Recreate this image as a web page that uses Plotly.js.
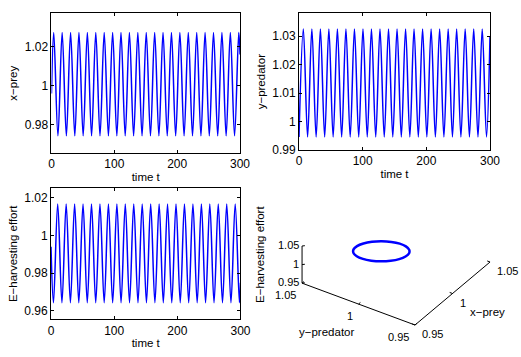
<!DOCTYPE html>
<html>
<head>
<meta charset="utf-8">
<script src="https://cdn.plot.ly/plotly-3.0.1.min.js"></script>
<style>
  html, body { margin: 0; padding: 0; background: #ffffff; }
  #chart { width: 521px; height: 357px; }
</style>
</head>
<body>
<div id="chart"></div>
<script>
// extrema of each time series
let preyPeakT = [3.6, 17.0, 30.4, 43.7, 57.1, 70.5, 83.9, 97.3, 110.6, 124.0, 137.4, 150.8, 164.2, 177.5, 190.9, 204.3, 217.7, 231.1, 244.4, 257.8, 271.2, 284.6, 298.0];
let preyTroughT = [10.3, 23.7, 37.1, 50.4, 63.8, 77.2, 90.6, 104.0, 117.3, 130.7, 144.1, 157.5, 170.9, 184.2, 197.6, 211.0, 224.4, 237.8, 251.1, 264.5, 277.9, 291.3];
let preyLevels = [1.0273, 0.9744];   // peak, trough
let preyEnds = [0.996, 1.016];       // value at t=0, t=300

let predPeakT = [6.8, 20.2, 33.6, 46.9, 60.3, 73.7, 87.1, 100.5, 113.8, 127.2, 140.6, 154.0, 167.4, 180.7, 194.1, 207.5, 220.9, 234.3, 247.6, 261.0, 274.4, 287.8];
let predTroughT = [13.5, 26.9, 40.3, 53.6, 67.0, 80.4, 93.8, 107.2, 120.5, 133.9, 147.3, 160.7, 174.1, 187.4, 200.8, 214.2, 227.6, 241.0, 254.3, 267.7, 281.1, 294.5];
let predLevels = [1.0325, 0.9946];
let predEnds = [0.9946, 1.030];

let effPeakT = [10.6, 24.0, 37.4, 50.7, 64.1, 77.5, 90.9, 104.3, 117.6, 131.0, 144.4, 157.8, 171.2, 184.5, 197.9, 211.3, 224.7, 238.1, 251.4, 264.8, 278.2, 291.6];
let effTroughT = [3.9, 17.3, 30.7, 44.0, 57.4, 70.8, 84.2, 97.6, 110.9, 124.3, 137.7, 151.1, 164.5, 177.8, 191.2, 204.6, 218.0, 231.4, 244.7, 258.1, 271.5, 284.9, 298.3];
let effLevels = [1.0167, 0.9644];
let effEnds = [0.994, 0.975];

// limit cycle (x-prey, y-predator, E-effort) for the 3d panel
let cycleX = [1.0273, 1.0257, 1.0211, 1.0141, 1.0054, 0.9962, 0.9876, 0.9805, 0.9759, 0.9743, 0.9759, 0.9805, 0.9876, 0.9962, 1.0054, 1.0141, 1.0211, 1.0257, 1.0273];
let cycleY = [1.0149, 1.0213, 1.0268, 1.0307, 1.0325, 1.0320, 1.0294, 1.0248, 1.0188, 1.0123, 1.0059, 1.0004, 0.9965, 0.9947, 0.9952, 0.9978, 1.0024, 1.0084, 1.0149];
let cycleE = [0.9647, 0.9650, 0.9684, 0.9745, 0.9825, 0.9915, 1.0004, 1.0081, 1.0137, 1.0165, 1.0162, 1.0128, 1.0067, 0.9987, 0.9897, 0.9808, 0.9731, 0.9675, 0.9647];

let tRange = [0, 300];
let timeTicks = [0, 100, 200, 300];
let cubeRange = [0.95, 1.05];
let cubeTicks = [0.95, 1, 1.05];

function buildSeries(peakT, troughT, levels, ends) {
    let pts = [{ t: tRange[0], v: ends[0] }, { t: tRange[1], v: ends[1] }];
    for (let i = 0; i < peakT.length; i++) pts.push({ t: peakT[i], v: levels[0] });
    for (let i = 0; i < troughT.length; i++) pts.push({ t: troughT[i], v: levels[1] });
    pts.sort((a, b) => a.t - b.t);
    return { x: pts.map(p => p.t), y: pts.map(p => p.v) };
}

let FONT = 'Liberation Sans, Arial, sans-serif';
let BLUE = '#0000ff';

// view of the 3d box (matlab style, no webgl): azimuth, elevation, z squash
let AZ = 33.6 * Math.PI / 180;
let EL = 33.9 * Math.PI / 180;
let Z_ASPECT = 0.33;

function project(x, y, z) {
    let span = cubeRange[1] - cubeRange[0];
    let nx = (x - cubeRange[0]) / span;
    let ny = (y - cubeRange[0]) / span;
    let nz = (z - cubeRange[0]) / span * Z_ASPECT;
    let u = nx * Math.sin(AZ) - ny * Math.cos(AZ);
    let v = (nx * Math.cos(AZ) + ny * Math.sin(AZ)) * Math.sin(EL) + nz * Math.cos(EL);
    return [u, v];
}

function projectLine(xs, ys, zs) {
    let u = [], v = [];
    for (let i = 0; i < xs.length; i++) {
        if (xs[i] === null) { u.push(null); v.push(null); continue; }
        let p = project(xs[i], ys[i], zs[i]);
        u.push(p[0]);
        v.push(p[1]);
    }
    return { u: u, v: v };
}

function seriesTrace(s, xa, ya) {
    return {
        x: s.x, y: s.y, xaxis: xa, yaxis: ya,
        type: 'scatter', mode: 'lines',
        line: { color: BLUE, width: 1.5, shape: 'spline', smoothing: 1 },
        hoverinfo: 'none'
    };
}

let prey = buildSeries(preyPeakT, preyTroughT, preyLevels, preyEnds);
let pred = buildSeries(predPeakT, predTroughT, predLevels, predEnds);
let eff = buildSeries(effPeakT, effTroughT, effLevels, effEnds);

// box axes of the 3d panel
let lo = cubeRange[0], hi = cubeRange[1];
let boxAxes = projectLine(
    [lo, hi, null, lo, lo, null, lo, lo],
    [lo, lo, null, hi, lo, null, hi, hi],
    [lo, lo, null, lo, lo, null, lo, hi]
);
let tk = 0.0025; // tick length in data units
let tx = [], ty = [], tz = [];
for (let i = 0; i < cubeTicks.length; i++) {
    let c = cubeTicks[i];
    tx.push(c, c, null); ty.push(lo, lo + tk, null); tz.push(lo, lo, null);          // x-prey ticks
    tx.push(lo, lo + tk, null); ty.push(c, c, null); tz.push(lo, lo, null);          // y-predator ticks
    tx.push(lo, lo + tk * 0.6, null); ty.push(hi, hi - tk * 0.6, null); tz.push(c, c, null); // E ticks
}
let boxTicks = projectLine(tx, ty, tz);
let cycle = projectLine(cycleX, cycleY, cycleE);

let data = [
    seriesTrace(prey, 'x', 'y'),
    seriesTrace(pred, 'x2', 'y2'),
    seriesTrace(eff, 'x3', 'y3'),
    { x: boxAxes.u, y: boxAxes.v, xaxis: 'x4', yaxis: 'y4', type: 'scatter', mode: 'lines',
      line: { color: '#000', width: 1 }, hoverinfo: 'none' },
    { x: boxTicks.u, y: boxTicks.v, xaxis: 'x4', yaxis: 'y4', type: 'scatter', mode: 'lines',
      line: { color: '#000', width: 1 }, hoverinfo: 'none' },
    { x: cycle.u, y: cycle.v, xaxis: 'x4', yaxis: 'y4', type: 'scatter', mode: 'lines',
      line: { color: BLUE, width: 2.5, shape: 'spline', smoothing: 1 }, hoverinfo: 'none' }
];

function timeAxis(domain, anchor) {
    return {
        domain: domain, anchor: anchor, range: tRange,
        tickvals: timeTicks, ticks: 'inside', ticklen: 3, tickcolor: '#000',
        showline: true, mirror: 'ticks', linecolor: '#000', linewidth: 1,
        showgrid: false, zeroline: false,
        tickfont: { family: FONT, size: 12, color: '#000' },
        title: { text: 'time t', font: { family: FONT, size: 11.5, color: '#000' }, standoff: 2 }
    };
}

function valueAxis(domain, anchor, range, ticks, label) {
    return {
        domain: domain, anchor: anchor, range: range,
        tickvals: ticks, ticks: 'inside', ticklen: 3, tickcolor: '#000',
        showline: true, mirror: 'ticks', linecolor: '#000', linewidth: 1,
        showgrid: false, zeroline: false,
        tickfont: { family: FONT, size: 12, color: '#000' },
        title: { text: label, font: { family: FONT, size: 11.5, color: '#000' }, standoff: 4 }
    };
}

function hiddenAxis(domain, anchor, range) {
    return {
        domain: domain, anchor: anchor, range: range,
        visible: false, showgrid: false, zeroline: false, showline: false, fixedrange: true
    };
}

let annFont = { family: FONT, size: 11.5, color: '#000' };
let cubeTickFont = { family: FONT, size: 11, color: '#000' };

function paperLabel(px, py, text, angle) {
    return { xref: 'paper', yref: 'paper', x: px / 521, y: 1 - py / 357, text: text,
        textangle: angle, xanchor: 'center', yanchor: 'middle', showarrow: false, font: annFont };
}

let annotations = [
    paperLabel(260, 255, 'E\u2212harvesting effort', -90),
    paperLabel(326, 332, 'y\u2212predator', 0),
    paperLabel(487, 312, 'x\u2212prey', 0)
];

// tick labels of the 3d box
for (let i = 0; i < cubeTicks.length; i++) {
    let c = cubeTicks[i];
    let px = project(c, lo, lo);
    let py = project(lo, c, lo);
    let pz = project(lo, hi, c);
    annotations.push({ xref: 'x4', yref: 'y4', x: px[0], y: px[1], text: String(c), showarrow: false,
        xanchor: 'left', yanchor: 'middle', xshift: 5, yshift: -9, font: cubeTickFont });
    annotations.push({ xref: 'x4', yref: 'y4', x: py[0], y: py[1], text: String(c), showarrow: false,
        xanchor: 'right', yanchor: 'middle', xshift: -4, yshift: -12, font: cubeTickFont });
    annotations.push({ xref: 'x4', yref: 'y4', x: pz[0], y: pz[1], text: String(c), showarrow: false,
        xanchor: 'right', yanchor: 'middle', xshift: -1, yshift: 1, font: cubeTickFont });
}

let layout = {
    width: 521, height: 357,
    margin: { l: 0, r: 0, t: 0, b: 0 },
    paper_bgcolor: '#ffffff', plot_bgcolor: 'rgba(0,0,0,0)',
    showlegend: false,
    xaxis: timeAxis([0.0988, 0.4607], 'y'),
    yaxis: valueAxis([0.5714, 0.9622], 'x', [0.9656, 1.037], [0.98, 1, 1.02], 'x\u2212prey'),
    xaxis2: timeAxis([0.5739, 0.9405], 'y2'),
    yaxis2: valueAxis([0.5798, 0.9627], 'x2', [0.99, 1.038], [0.99, 1, 1.01, 1.02, 1.03], 'y\u2212predator'),
    xaxis3: timeAxis([0.0979, 0.4616], 'y3'),
    yaxis3: valueAxis([0.1056, 0.4725], 'x3', [0.9556, 1.025], [0.96, 0.98, 1, 1.02], 'E\u2212harvesting effort'),
    // 3d panel drawn on a plain pair of axes, 135.6 px per box side
    xaxis4: hiddenAxis([250 / 521, 1], 'y4', [-1.2168, 0.7817]),
    yaxis4: hiddenAxis([0, 1 - 190 / 357], 'x4', [-0.236, 0.9956]),
    annotations: annotations
};

Plotly.newPlot('chart', data, layout, { displayModeBar: false, staticPlot: true });
</script>
</body>
</html>
